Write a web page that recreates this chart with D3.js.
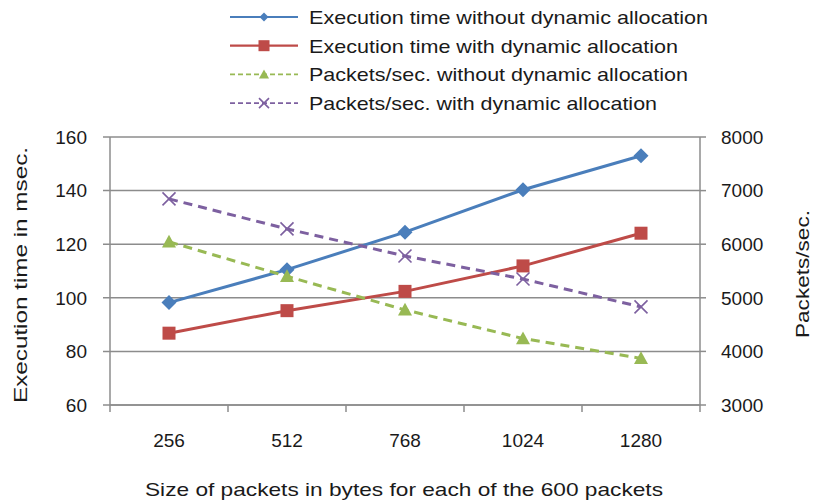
<!DOCTYPE html>
<html>
<head>
<meta charset="utf-8">
<script src="https://cdn.jsdelivr.net/npm/d3@7"></script>
<style>
  body { margin: 0; background: #fff; }
  text { font-family: "Liberation Sans", Arial, sans-serif; fill: #1a1a1a; }
</style>
</head>
<body>
<svg id="chart" width="815" height="503"></svg>
<script>
// packet sizes (bytes)
const sizes = ['256', '512', '768', '1024', '1280'];

// execution time, msec (left axis)
const timeNoDyn  = [98.2, 110.5, 124.5, 140.3, 153.0];
const timeDyn    = [86.8, 95.2, 102.4, 111.9, 124.1];

// packets per second (right axis)
const ppsNoDyn   = [6045, 5400, 4775, 4240, 3870];
const ppsDyn     = [6845, 6285, 5780, 5350, 4830];

const leftTicks  = [60, 80, 100, 120, 140, 160];
const rightTicks = [3000, 4000, 5000, 6000, 7000, 8000];

const legendLabels = [
    'Execution time without dynamic allocation',
    'Execution time with dynamic allocation',
    'Packets/sec. without dynamic allocation',
    'Packets/sec. with dynamic allocation'
];

const colors = ['#4a7ebb', '#be4b48', '#98b954', '#7d60a0'];
const grid   = '#8c8c8c';

const svg = d3.select('#chart');
const L = 110, R = 700, T = 137, B = 405;

const x  = d3.scaleBand().domain(sizes).range([L, R]).padding(0);
const yL = d3.scaleLinear().domain([60, 160]).range([B, T]);
const yR = d3.scaleLinear().domain([3000, 8000]).range([B, T]);
const cx = d => x(d) + x.bandwidth() / 2;

// gridlines + left ticks
const gG = svg.append('g');
leftTicks.forEach(t => {
    gG.append('line')
        .attr('x1', L - 7).attr('x2', R)
        .attr('y1', yL(t)).attr('y2', yL(t))
        .attr('stroke', grid).attr('stroke-width', 1.5);
    gG.append('text')
        .attr('x', 87).attr('y', yL(t)).attr('dy', '0.36em')
        .attr('text-anchor', 'end').attr('font-size', 19)
        .text(t);
});
rightTicks.forEach(t => {
    gG.append('line')
        .attr('x1', R).attr('x2', R + 6)
        .attr('y1', yR(t)).attr('y2', yR(t))
        .attr('stroke', grid).attr('stroke-width', 1.5);
    gG.append('text')
        .attr('x', 721).attr('y', yR(t)).attr('dy', '0.36em')
        .attr('font-size', 19)
        .text(t);
});

// axis lines
gG.append('line').attr('x1', L).attr('x2', L).attr('y1', T).attr('y2', B + 7)
    .attr('stroke', grid).attr('stroke-width', 1.5);
gG.append('line').attr('x1', R).attr('x2', R).attr('y1', T).attr('y2', B + 7)
    .attr('stroke', grid).attr('stroke-width', 1.5);
gG.append('line').attr('x1', L).attr('x2', R).attr('y1', B).attr('y2', B)
    .attr('stroke', grid).attr('stroke-width', 1.5);
sizes.forEach((s, i) => {
    if (i > 0) {
        gG.append('line').attr('x1', x(s)).attr('x2', x(s)).attr('y1', B).attr('y2', B + 7)
            .attr('stroke', grid).attr('stroke-width', 1.5);
    }
    gG.append('text')
        .attr('x', cx(s)).attr('y', 440).attr('dy', '0.36em')
        .attr('text-anchor', 'middle').attr('font-size', 19)
        .text(s);
});

// axis titles
svg.append('text')
    .attr('transform', 'translate(20,275) rotate(-90)')
    .attr('text-anchor', 'middle').attr('dy', '0.36em')
    .attr('font-size', 19).attr('textLength', 256).attr('lengthAdjust', 'spacingAndGlyphs')
    .text('Execution time in msec.');
svg.append('text')
    .attr('transform', 'translate(802,274) rotate(-90)')
    .attr('text-anchor', 'middle').attr('dy', '0.36em')
    .attr('font-size', 19).attr('textLength', 128).attr('lengthAdjust', 'spacingAndGlyphs')
    .text('Packets/sec.');
svg.append('text')
    .attr('x', 404).attr('y', 489).attr('dy', '0.36em')
    .attr('text-anchor', 'middle')
    .attr('font-size', 19).attr('textLength', 518).attr('lengthAdjust', 'spacingAndGlyphs')
    .text('Size of packets in bytes for each of the 600 packets');

// markers
function marker(g, type, px, py, s, col) {
    if (type === 'diamond') {
        g.append('path').attr('d', `M${px},${py - s}L${px + s},${py}L${px},${py + s}L${px - s},${py}Z`)
            .attr('fill', col);
    } else if (type === 'square') {
        g.append('rect').attr('x', px - s).attr('y', py - s).attr('width', 2 * s).attr('height', 2 * s)
            .attr('fill', col);
    } else if (type === 'triangle') {
        g.append('path').attr('d', `M${px},${py - s}L${px + s},${py + s * 0.8}L${px - s},${py + s * 0.8}Z`)
            .attr('fill', col);
    } else {
        g.append('path').attr('d', `M${px - s},${py - s}L${px + s},${py + s}M${px - s},${py + s}L${px + s},${py - s}`)
            .attr('stroke', col).attr('stroke-width', 1.6).attr('fill', 'none');
    }
}

const series = [
    { vals: timeNoDyn, y: yL, dash: null,  mk: 'diamond',  size: 7.5 },
    { vals: timeDyn,   y: yL, dash: null,  mk: 'square',   size: 6.5 },
    { vals: ppsNoDyn,  y: yR, dash: '9,6', mk: 'triangle', size: 7 },
    { vals: ppsDyn,    y: yR, dash: '9,6', mk: 'x',        size: 6.5 }
];

const plot = svg.append('g');
series.forEach((s, i) => {
    const line = d3.line().x((d, j) => cx(sizes[j])).y(d => s.y(d));
    plot.append('path').datum(s.vals)
        .attr('d', line).attr('fill', 'none')
        .attr('stroke', colors[i]).attr('stroke-width', 3)
        .attr('stroke-dasharray', s.dash);
    s.vals.forEach((v, j) => marker(plot, s.mk, cx(sizes[j]), s.y(v), s.size, colors[i]));
});

// legend
const legendW = [399, 369, 379, 348];
const leg = svg.append('g');
legendLabels.forEach((lab, i) => {
    const ly = 17 + i * 28.7;
    leg.append('line').attr('x1', 230).attr('x2', 298).attr('y1', ly).attr('y2', ly)
        .attr('stroke', colors[i]).attr('stroke-width', i < 2 ? 2.2 : 1.6)
        .attr('stroke-dasharray', i < 2 ? null : '5,3');
    const sz = [4.5, 5.5, 5, 5][i];
    marker(leg, series[i].mk, 264, ly, sz, colors[i]);
    leg.append('text')
        .attr('x', 309).attr('y', ly).attr('dy', '0.36em')
        .attr('font-size', 19).attr('textLength', legendW[i]).attr('lengthAdjust', 'spacingAndGlyphs')
        .text(lab);
});
</script>
</body>
</html>
